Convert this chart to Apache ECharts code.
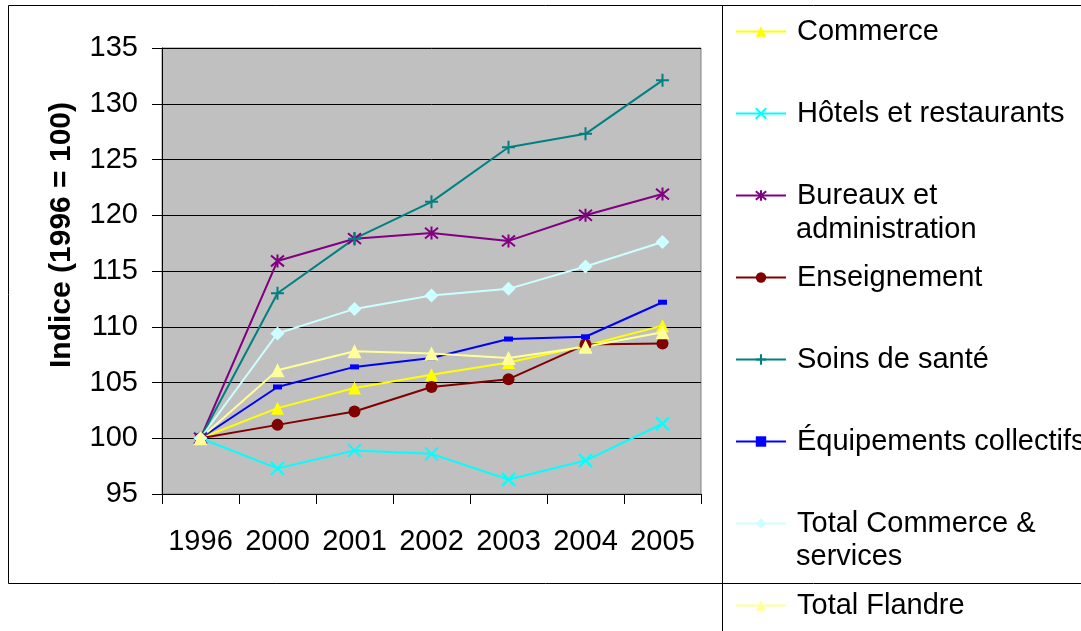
<!DOCTYPE html>
<html>
<head>
<meta charset="utf-8">
<script src="https://cdn.jsdelivr.net/npm/echarts@6/dist/echarts.min.js"></script>
<style>
    html, body { margin: 0; padding: 0; background: #fff; }
    #lineChart { width: 1081px; height: 631px; }
</style>
</head>
<body>
<div id="lineChart"></div>
<script>
    // années
    var years = ['1996', '2000', '2001', '2002', '2003', '2004', '2005']
    // indices (1996 = 100)
    var commerce = [100, 102.7, 104.5, 105.7, 106.8, 108.3, 110.1]
    var hotels = [100, 97.3, 98.9, 98.6, 96.3, 98.0, 101.3]
    var bureaux = [100, 115.9, 117.9, 118.4, 117.7, 120.0, 121.9]
    var enseignement = [100, 101.2, 102.4, 104.6, 105.3, 108.4, 108.5]
    var soins = [100, 113.0, 117.9, 121.2, 126.1, 127.3, 132.1]
    var equipements = [100, 104.6, 106.4, 107.2, 108.9, 109.1, 112.2]
    var totalServices = [100, 109.4, 111.6, 112.8, 113.4, 115.4, 117.6]
    var totalFlandre = [100, 106.1, 107.8, 107.6, 107.2, 108.2, 109.5]

    var font = 'Liberation Sans, Arial, sans-serif'
    var fontSize = 29

    var lineList = [
        {name: 'Commerce', data: commerce, color: '#FFFF00', symbol: 'triangle', size: 13},
        {name: 'Hôtels et restaurants', data: hotels, color: '#00FFFF', symbol: 'path://M0,0L10,10M0,10L10,0', size: 13, stroke: true},
        {name: 'Bureaux et administration', data: bureaux, color: '#800080', symbol: 'path://M0,0L10,10M0,10L10,0M5,-1L5,11', size: 13, stroke: true},
        {name: 'Enseignement', data: enseignement, color: '#800000', symbol: 'circle', size: 12},
        {name: 'Soins de santé', data: soins, color: '#008080', symbol: 'path://M5,0L5,10M0,5L10,5', size: 13, stroke: true},
        {name: 'Équipements collectifs', data: equipements, color: '#0000FF', symbol: 'rect', size: [9, 5]},
        {name: 'Total Commerce & services', data: totalServices, color: '#CCFFFF', symbol: 'diamond', size: 14},
        {name: 'Total Flandre', data: totalFlandre, color: '#FFFF99', symbol: 'triangle', size: 14}
    ]

    var service = lineList.map(function (item) {
        return {
            name: item.name,
            type: 'line',
            data: item.data,
            symbol: item.symbol,
            symbolSize: item.size,
            showAllSymbol: true,
            animation: false,
            lineStyle: {width: 2, color: item.color},
            itemStyle: item.stroke
                ? {color: item.color, borderColor: item.color, borderWidth: 2}
                : {color: item.color, borderWidth: 0}
        }
    })

    var myChart = echarts.init(document.getElementById('lineChart'))
    myChart.setOption({
        backgroundColor: '#FFFFFF',
        grid: {
            left: 162,
            top: 48,
            width: 539,
            height: 446,
            show: true,
            backgroundColor: '#C0C0C0',
            borderColor: '#808080',
            borderWidth: 1
        },
        legend: {
            orient: 'vertical',
            left: 735,
            top: 17,
            padding: 0,
            itemWidth: 50,
            itemHeight: 13,
            itemGap: 53,
            data: lineList.map(function (i) { return i.name }),
            formatter: function (name) {
                if (name === 'Bureaux et administration') return 'Bureaux et'
                if (name === 'Total Commerce & services') return 'Total Commerce &'
                return name
            },
            textStyle: {color: '#000', fontFamily: font, fontSize: fontSize, padding: [0, 0, 0, 6]}
        },
        xAxis: {
            type: 'category',
            data: years,
            boundaryGap: true,
            axisLine: {show: true, lineStyle: {color: '#000', width: 1}},
            axisTick: {show: true, interval: 0, length: 10, lineStyle: {color: '#000'}},
            axisLabel: {color: '#000', fontFamily: font, fontSize: fontSize, margin: 33, interval: 0, hideOverlap: false}
        },
        yAxis: {
            type: 'value',
            min: 95,
            max: 135,
            interval: 5,
            axisLine: {show: true, lineStyle: {color: '#000', width: 1}},
            axisTick: {show: true, length: 10, lineStyle: {color: '#000'}},
            splitLine: {show: true, lineStyle: {color: '#000', width: 1}},
            axisLabel: {color: '#000', fontFamily: font, fontSize: fontSize, margin: 24}
        },
        graphic: [
            // cadre du graphique
            {type: 'rect', shape: {x: 8.5, y: 5.5, width: 1100, height: 578}, style: {fill: 'none', stroke: '#000', lineWidth: 1}, silent: true},
            // séparateur légende
            {type: 'line', shape: {x1: 722.5, y1: 5, x2: 722.5, y2: 631}, style: {stroke: '#000', lineWidth: 1}, silent: true},
            {type: 'text', x: 62, y: 235, rotation: Math.PI / 2, style: {text: 'Indice (1996 = 100)', fill: '#000', font: 'bold 30px ' + font, textAlign: 'center', textVerticalAlign: 'middle'}},
            {type: 'text', x: 796, y: 230, style: {text: 'administration', fill: '#000', font: fontSize + 'px ' + font, textVerticalAlign: 'middle'}},
            {type: 'text', x: 796, y: 557, style: {text: 'services', fill: '#000', font: fontSize + 'px ' + font, textVerticalAlign: 'middle'}}
        ],
        series: service
    })
</script>
</body>
</html>
